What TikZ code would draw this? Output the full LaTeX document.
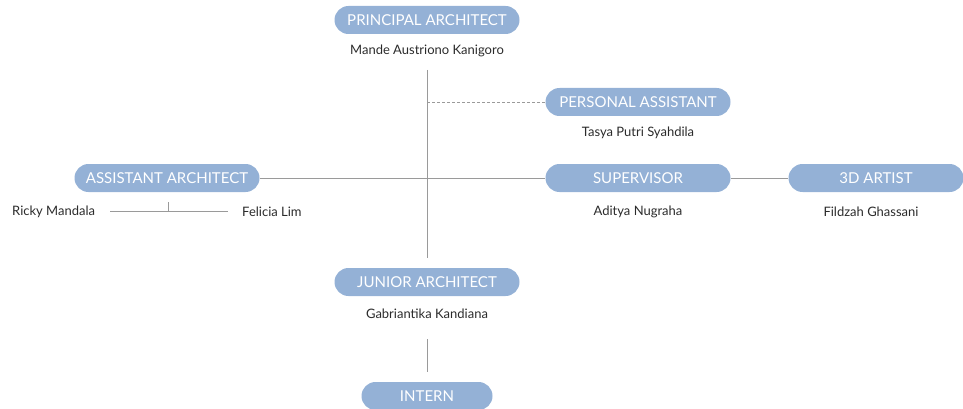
\documentclass[tikz,border=0pt]{standalone}
\usepackage{fontspec}
\setmainfont{Lato}
\definecolor{pillblue}{HTML}{94B1D6}
\definecolor{linegray}{HTML}{9A9A9A}
\definecolor{nametext}{HTML}{2B2B2B}
\tikzset{
  pill/.style={fill=pillblue, text=white, rounded corners=14pt, minimum width=185pt,
    minimum height=28pt, inner sep=0pt, font=\fontsize{15}{16}\selectfont},
  person/.style={text=nametext, font=\fontsize{13}{14}\selectfont, inner sep=0pt},
  link/.style={draw=linegray, line width=0.8pt}
}
\begin{document}
\begin{tikzpicture}[x=1pt, y=-1pt]
\useasboundingbox (0,0) rectangle (963,409);
% positions
\foreach \n/\x/\y/\t in {pa/427/20/PRINCIPAL ARCHITECT, ps/638/102/PERSONAL ASSISTANT,
    aa/167/178/ASSISTANT ARCHITECT, sv/638/178/SUPERVISOR, ja/427/282/JUNIOR ARCHITECT}
  \node[pill] (\n) at (\x, \y) {\t};
\node[pill, minimum width=175pt] (ar) at (876, 178) {3D ARTIST};
\node[pill, minimum width=131pt] (in) at (427, 396) {INTERN};
% names
\node[person] (paN) at (427, 51) {Mande Austriono Kanigoro};
\node[person] (psN) at (638, 133) {Tasya Putri Syahdila};
\node[person] (svN) at (638, 212) {Aditya Nugraha};
\node[person] (arN) at (871, 212) {Fildzah Ghassani};
\node[person] (jaN) at (427, 314) {Gabriantika Kandiana};
\node[person, anchor=west] (rm) at (12, 212) {Ricky Mandala};
\node[person, anchor=west] (fl) at (242, 212) {Felicia Lim};
% links
\coordinate (top) at (427, 70);
\coordinate (bot) at (427, 258);
\draw[link] (top) -- (bot);
\draw[link, dash pattern=on 3pt off 2pt] (top |- ps.west) -- (ps.west);
\draw[link] (aa.east) -- (sv.west);
\draw[link] (sv.east) -- (ar.west);
\coordinate (rmEnd) at (110, 211);
\coordinate (flEnd) at (228, 211);
\draw[link] (rmEnd) -- (flEnd);
\draw[link] (aa.south) ++(1, 10) -- ++(0, 9);
\draw[link] ([yshift=-20pt]jaN.south) -- ([yshift=10pt]in.north);
\end{tikzpicture}
\end{document}
